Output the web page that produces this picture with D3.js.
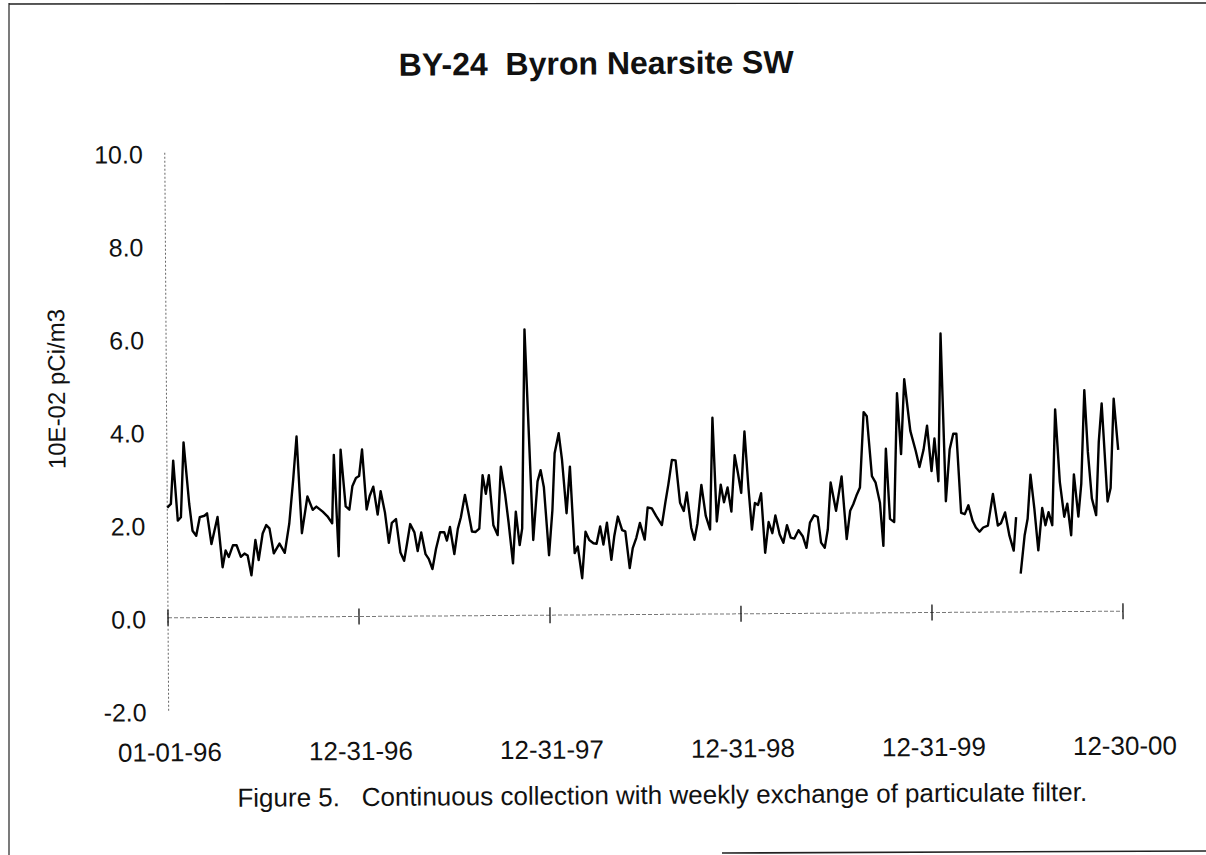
<!DOCTYPE html>
<html>
<head>
<meta charset="utf-8">
<script src="https://cdn.jsdelivr.net/npm/d3@7"></script>
<style>
  html, body { margin: 0; padding: 0; background: #fff; }
  svg { display: block; }
  text { font-family: "Liberation Sans", Arial, Helvetica, sans-serif; fill: #111; white-space: pre; }
</style>
</head>
<body>
<svg id="chart" width="1206" height="855"></svg>
<script>
// ---- Data (days since 01-01-96, weekly filter results in 10E-02 pCi/m3) ----
const dayOffsets = [
  0,7,12,20,26,32,42,48,55,62,71,76,84,90,96,105,111,117,125,132,
  140,147,153,160,168,174,182,189,195,203,214,224,233,241,248,257,268,278,285,297,
  306,315,319,327,332,341,348,354,361,367,
  373,381,387,394,402,408,416,423,429,437,445,452,458,464,472,478,485,493,499,506,
  513,521,529,534,540,548,555,561,569,576,582,589,596,603,609,615,623,631,638,646,
  652,660,666,673,678,685,
  699,708,714,720,729,736,741,749,755,763,770,778,784,792,799,806,814,820,827,833,
  840,848,854,861,869,875,883,889,896,903,912,918,926,934,945,952,958,965,972,980,
  987,993,1001,1007,1013,1021,1029,1037,1043,1050,1058,1064,1071,1078,1085,1091,1097,1104,1111,1117,
  1123,1129,1135,1142,1149,1156,1162,1170,1177,1184,1191,1198,1206,1214,1221,1228,1236,1243,1249,1256,
  1262,1268,1278,1289,1298,1305,1311,1317,1324,1332,1338,1347,1354,1362,1368,1374,1381,1389,1396,1403,
  1410,1421,1431,1438,1446,1453,1461,1467,1474,1480,1488,1496,1503,1509,1517,1524,1531,1539,1545,1552,
  1559,1568,1578,1587,1593,1601,1609,1617,1622,
  1626,
  1630,1638,1644,1650,1657,1664,1672,1678,1684,1691,1698,1706,1714,1720,1727,1733,1741,1747,1754,1760,
  1767,1775,1781,1787,1797,1803,1810,1818
];
const values = [
  2.37,2.45,3.38,2.09,2.16,3.77,2.45,1.87,1.76,2.16,2.19,2.24,1.58,1.87,2.16,1.08,1.44,1.30,1.55,1.55,
  1.30,1.37,1.33,0.90,1.66,1.23,1.80,1.98,1.91,1.37,1.58,1.38,2.01,2.95,3.88,1.80,2.59,2.30,2.37,2.26,
  2.16,2.01,3.48,1.30,3.59,2.37,2.30,2.80,2.98,3.02,
  3.59,2.30,2.59,2.79,2.19,2.69,2.23,1.58,2.01,2.09,1.37,1.19,1.58,1.98,1.80,1.40,1.80,1.33,1.23,1.01,
  1.44,1.80,1.80,1.62,1.91,1.33,1.87,2.12,2.60,2.19,1.81,1.80,1.87,3.02,2.62,3.02,1.94,1.73,3.20,2.59,
  2.01,1.12,2.23,1.51,1.87,6.15,
  1.62,2.88,3.12,2.75,1.29,2.26,3.48,3.91,3.34,2.19,3.19,1.33,1.47,0.79,1.79,1.61,1.54,1.53,1.90,1.51,
  1.98,1.18,1.70,2.11,1.82,1.79,1.00,1.43,1.65,1.97,1.61,2.30,2.28,2.12,1.92,2.41,2.80,3.32,3.31,2.40,
  2.22,2.62,1.86,1.60,1.95,2.78,2.11,1.82,4.22,1.99,2.78,2.40,2.72,2.20,3.41,3.03,2.60,3.92,2.70,1.81,
  2.38,2.34,2.59,1.31,1.97,1.73,2.11,1.70,1.52,1.90,1.63,1.61,1.79,1.66,1.41,1.95,2.11,2.07,1.52,1.41,
  1.80,2.81,2.20,2.94,1.59,2.20,2.34,2.52,2.70,4.32,4.23,2.94,2.80,2.37,1.44,3.53,2.02,1.95,4.72,3.41,
  5.02,3.91,3.48,3.13,3.50,4.02,3.04,3.74,2.82,6.00,2.39,3.51,3.84,3.84,2.14,2.11,2.30,1.96,1.82,1.73,
  1.82,1.86,2.54,1.86,1.91,2.14,1.64,1.32,2.04,
  null,
  0.82,1.64,2.00,2.95,2.22,1.32,2.23,1.86,2.14,1.86,4.35,2.79,2.04,2.32,1.64,2.95,2.04,2.75,4.76,3.43,
  2.43,2.07,3.65,4.47,2.36,2.65,4.57,3.47
];
const xTickDates = ["1996-01-01","1996-12-31","1997-12-31","1998-12-31","1999-12-31","2000-12-30"];
const xTickLabels = ["01-01-96","12-31-96","12-31-97","12-31-98","12-31-99","12-30-00"];
const yTickValues = [-2, 0, 2, 4, 6, 8, 10];
const yTickLabels = ["-2.0","0.0","2.0","4.0","6.0","8.0","10.0"];
const titleText = "BY-24  Byron Nearsite SW";
const yAxisTitle = "10E-02 pCi/m3";
const captionText = "Figure 5.   Continuous collection with weekly exchange of particulate filter.";

// ---- Drawing ----
const parse = d3.utcParse("%Y-%m-%d");
const start = parse("1996-01-01");
const data = dayOffsets.map((d, i) => ({ date: d3.utcDay.offset(start, d), value: values[i] }));

const svg = d3.select("#chart");

// scanned page frame
const frame = svg.append("g").attr("stroke", "#222").attr("fill", "none");
frame.append("line").attr("x1", 9).attr("y1", 3).attr("x2", 9).attr("y2", 855).attr("stroke-width", 1.2);
frame.append("line").attr("x1", 9).attr("y1", 4).attr("x2", 1206).attr("y2", 3).attr("stroke-width", 1.4);
frame.append("line").attr("x1", 722).attr("y1", 853).attr("x2", 1206).attr("y2", 851).attr("stroke-width", 1.6);

// slight scan tilt
const g = svg.append("g").attr("transform", "rotate(-0.4, 645, 614.5)");

const x = d3.scaleUtc()
  .domain([parse("1996-01-01"), parse("2000-12-30")])
  .range([168, 1123]);
const y = d3.scaleLinear().domain([-2, 10]).range([707.5, 149.5]);

// y axis (dotted)
g.append("line")
  .attr("x1", x.range()[0]).attr("x2", x.range()[0])
  .attr("y1", y(10)).attr("y2", y(-2))
  .attr("stroke", "#666").attr("stroke-width", 1)
  .attr("stroke-dasharray", "2,2");

// zero line (light dashed) with year tick marks
g.append("line")
  .attr("x1", x.range()[0]).attr("x2", x.range()[1])
  .attr("y1", y(0)).attr("y2", y(0))
  .attr("stroke", "#777").attr("stroke-width", 1)
  .attr("stroke-dasharray", "4,2");

g.selectAll("line.xtick")
  .data(xTickDates)
  .enter().append("line")
  .attr("class", "xtick")
  .attr("x1", d => x(parse(d))).attr("x2", d => x(parse(d)))
  .attr("y1", y(0) - 8).attr("y2", y(0) + 8)
  .attr("stroke", "#111").attr("stroke-width", 1.3);

// y tick labels
g.selectAll("text.ylab")
  .data(yTickValues)
  .enter().append("text")
  .attr("class", "ylab")
  .attr("x", 146)
  .attr("y", d => y(d) + 1.5)
  .attr("dy", "0.35em")
  .attr("text-anchor", "end")
  .attr("font-size", 25)
  .text((d, i) => yTickLabels[i]);

// x tick labels
g.selectAll("text.xlab")
  .data(xTickDates)
  .enter().append("text")
  .attr("class", "xlab")
  .attr("x", d => x(parse(d)) + 1)
  .attr("y", 758)
  .attr("text-anchor", "middle")
  .attr("font-size", 26)
  .text((d, i) => xTickLabels[i]);

// y axis title
g.append("text")
  .attr("transform", "translate(58, 385) rotate(-90)")
  .attr("text-anchor", "middle")
  .attr("dy", "0.35em")
  .attr("font-size", 24)
  .text(yAxisTitle);

// title
g.append("text")
  .attr("x", 600).attr("y", 74)
  .attr("text-anchor", "middle")
  .attr("font-size", 32)
  .attr("font-weight", "bold")
  .text(titleText);

// caption
g.append("text")
  .attr("x", 661).attr("y", 804)
  .attr("text-anchor", "middle")
  .attr("font-size", 26)
  .text(captionText);

// data line
const line = d3.line()
  .defined(d => d.value !== null)
  .x(d => x(d.date))
  .y(d => y(d.value));

g.append("path")
  .datum(data)
  .attr("fill", "none")
  .attr("stroke", "#000")
  .attr("stroke-width", 2.4)
  .attr("stroke-linejoin", "round")
  .attr("d", line);
</script>
</body>
</html>
